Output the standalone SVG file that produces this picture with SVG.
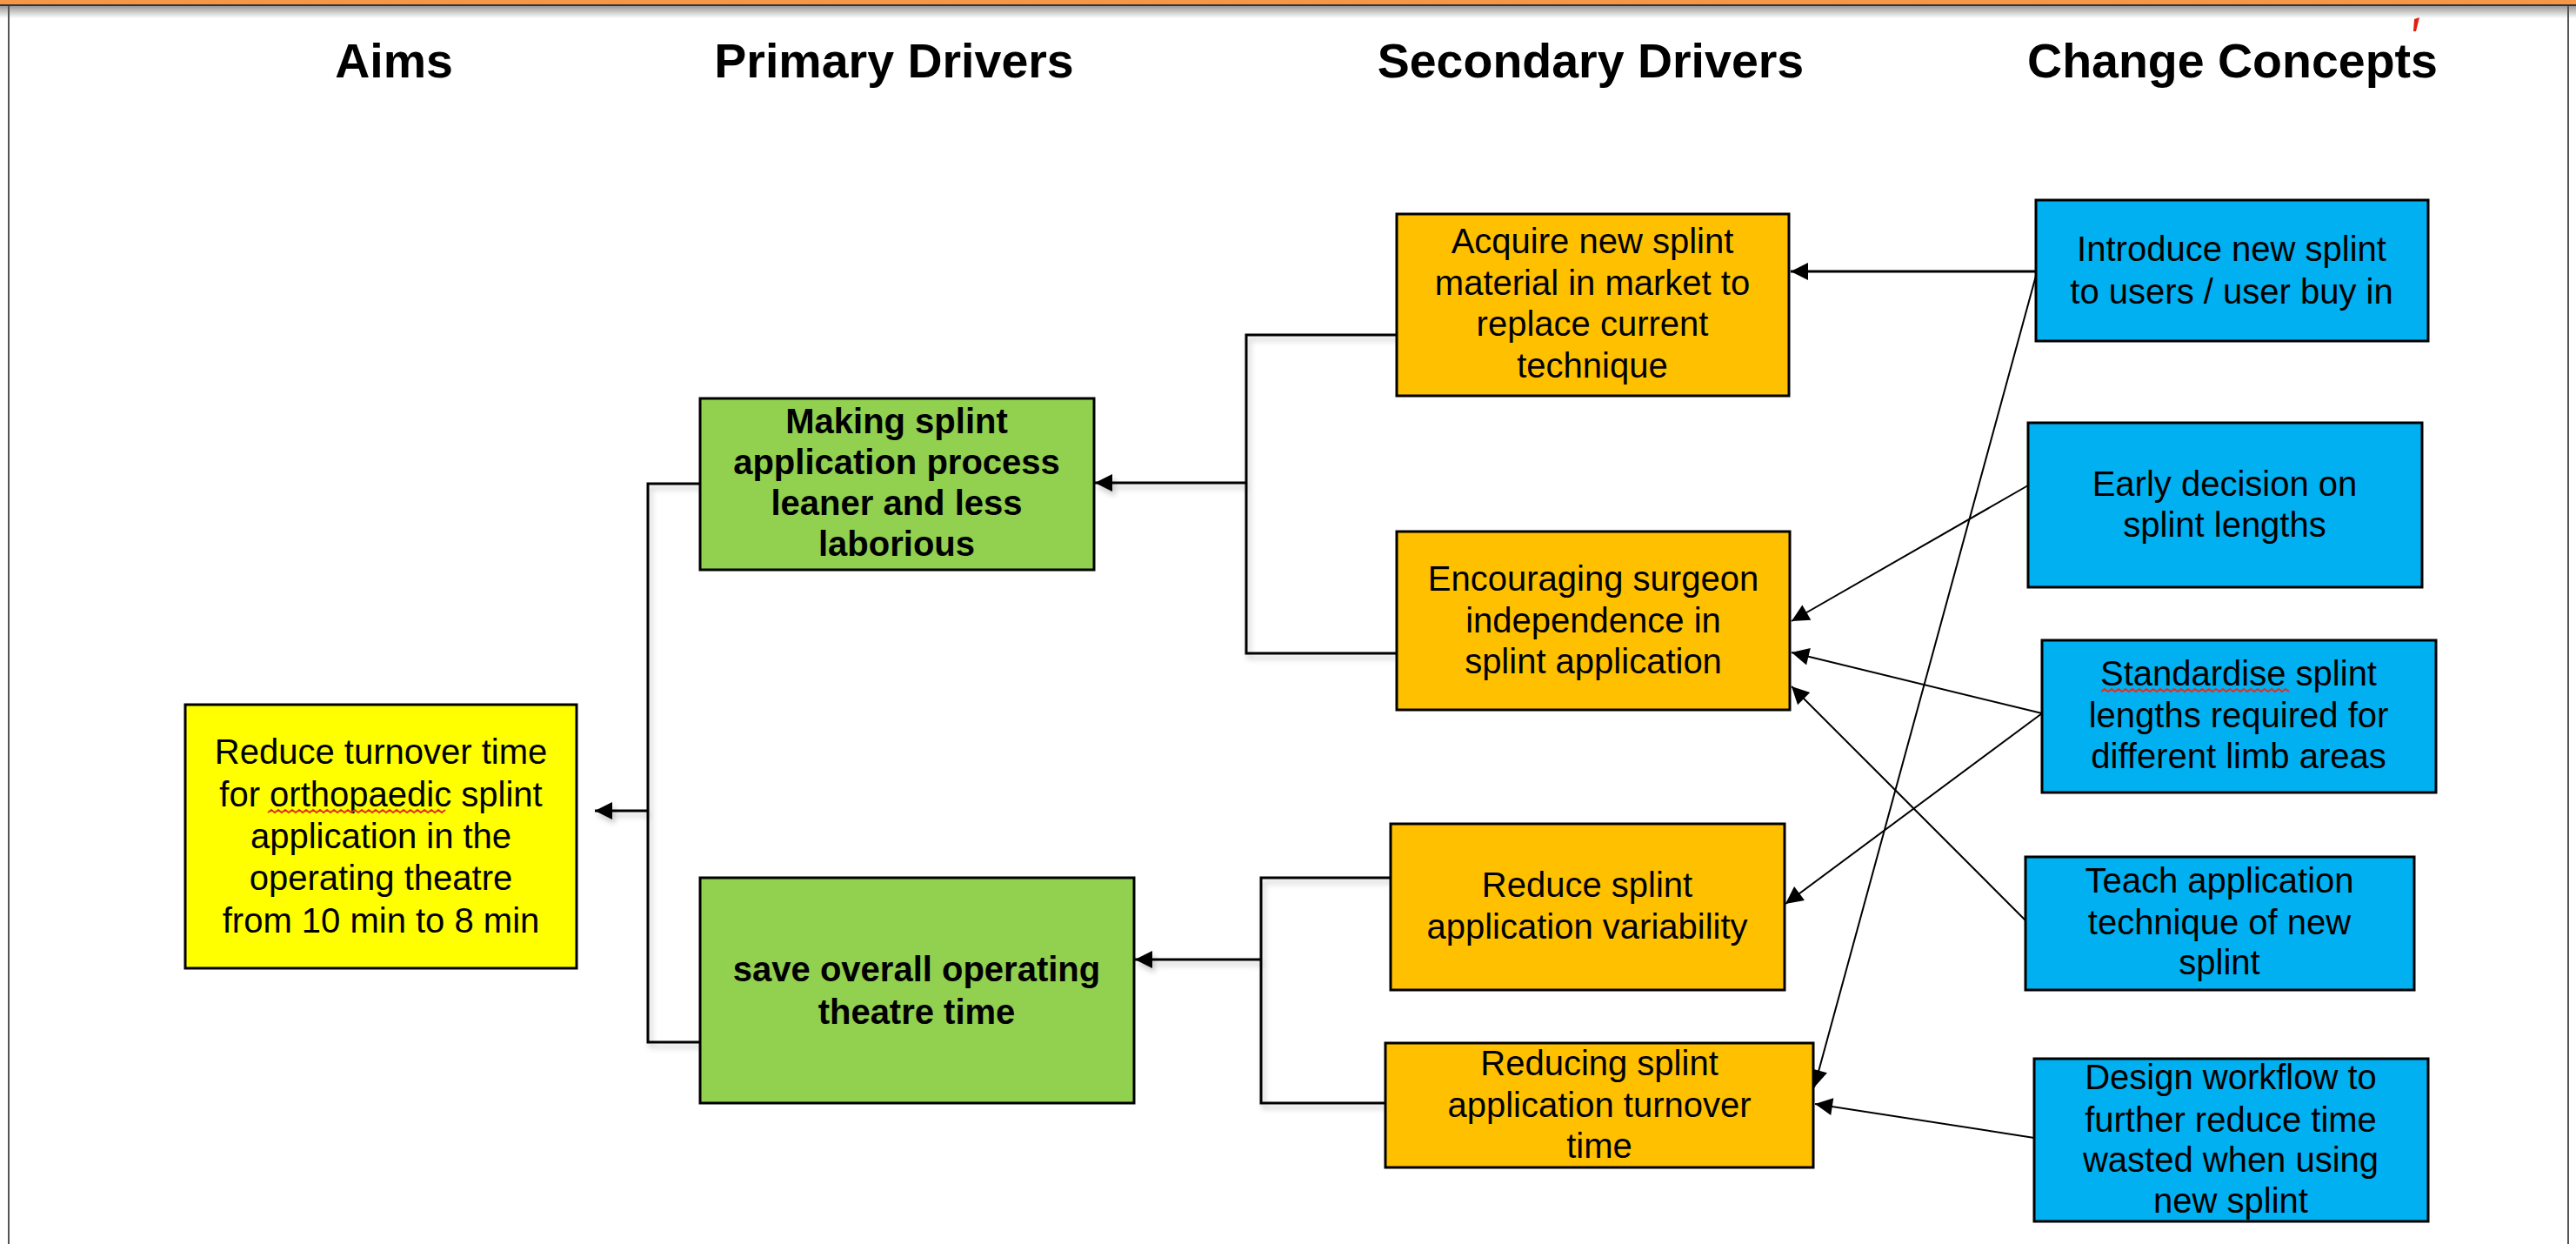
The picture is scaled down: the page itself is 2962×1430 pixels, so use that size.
<svg xmlns="http://www.w3.org/2000/svg" width="2962" height="1430" viewBox="0 0 2962 1430">
<defs>
<style>
.hdr{font-family:"Liberation Sans",Arial,sans-serif;font-weight:bold;font-size:55.5px;fill:#000;text-anchor:middle}
.t{font-family:"Liberation Sans",Arial,sans-serif;font-size:40px;fill:#000;text-anchor:middle}
.tb{font-family:"Liberation Sans",Arial,sans-serif;font-size:40px;font-weight:bold;fill:#000;text-anchor:middle}
.box{stroke:#000;stroke-width:3}
.aim{fill:#FFFF00}
.pri{fill:#92D050}
.sec{fill:#FFC000}
.chg{fill:#00B0F0}
.br{fill:none;stroke:#000;stroke-width:3}
.dg{fill:none;stroke:#000;stroke-width:2}
.wavy{fill:none;stroke:#E03020;stroke-width:2}
</style>
<marker id="ah" viewBox="0 0 10 10" refX="10" refY="5" markerWidth="24" markerHeight="20" markerUnits="userSpaceOnUse" orient="auto">
<path d="M0,0 L10,5 L0,10 z" fill="#000"/>
</marker>
<filter id="sh" x="-5%" y="-5%" width="110%" height="110%">
<feDropShadow dx="3" dy="5" stdDeviation="3" flood-color="#000" flood-opacity="0.22"/>
</filter>
<linearGradient id="topsh" x1="0" y1="0" x2="0" y2="1">
<stop offset="0" stop-color="#9a9a9a"/>
<stop offset="1" stop-color="#ffffff"/>
</linearGradient>
</defs>
<rect x="0" y="0" width="2962" height="1430" fill="#fff"/>
<rect x="0" y="7" width="2962" height="14" fill="url(#topsh)"/>
<rect x="0" y="0" width="2962" height="5" fill="#F79646"/>
<rect x="0" y="5" width="2962" height="2" fill="#333"/>
<line x1="10" y1="7" x2="10" y2="1430" stroke="#555" stroke-width="2"/>
<line x1="2953" y1="7" x2="2953" y2="1430" stroke="#555" stroke-width="2"/>
<polygon points="2776,22 2782,20 2778,36 2775,36" fill="#E02010"/>

<g id="headers">
<text class="hdr" x="453" y="89">Aims</text>
<text class="hdr" x="1028" y="89">Primary Drivers</text>
<text class="hdr" x="1829" y="89">Secondary Drivers</text>
<text class="hdr" x="2567" y="89">Change Concepts</text>
</g>

<g id="connectors">
<g filter="url(#sh)">
<polyline class="br" points="805,556 745,556 745,1198 805,1198"/>
<line class="br" x1="745" y1="932" x2="684" y2="932" marker-end="url(#ah)"/>
<polyline class="br" points="1606,385 1433,385 1433,751 1606,751"/>
<line class="br" x1="1433" y1="555" x2="1259" y2="555" marker-end="url(#ah)"/>
<polyline class="br" points="1599,1009 1450,1009 1450,1268 1593,1268"/>
<line class="br" x1="1450" y1="1103" x2="1305" y2="1103" marker-end="url(#ah)"/>
</g>
<line class="br" x1="2341" y1="312" x2="2059" y2="312" marker-end="url(#ah)"/>
<line class="dg" x1="2341" y1="317" x2="2086" y2="1250" marker-end="url(#ah)"/>
<line class="dg" x1="2332" y1="558" x2="2060" y2="714" marker-end="url(#ah)"/>
<line class="dg" x1="2348" y1="820" x2="2060" y2="750" marker-end="url(#ah)"/>
<line class="dg" x1="2348" y1="820" x2="2053" y2="1039" marker-end="url(#ah)"/>
<line class="dg" x1="2329" y1="1058" x2="2060" y2="789" marker-end="url(#ah)"/>
<line class="dg" x1="2339" y1="1308" x2="2087" y2="1269" marker-end="url(#ah)"/>
</g>

<g id="aim">
<rect class="box aim" x="213" y="810" width="450" height="303"/>
<text class="t" x="438" y="878">Reduce turnover time</text>
<text class="t" x="438" y="927">for orthopaedic splint</text>
<text class="t" x="438" y="975">application in the</text>
<text class="t" x="438" y="1023">operating theatre</text>
<text class="t" x="438" y="1072">from 10 min to 8 min</text>
<path class="wavy" d="M308,934 l4,-3 l4,3 l4,-3 l4,3 l4,-3 l4,3 l4,-3 l4,3 l4,-3 l4,3 l4,-3 l4,3 l4,-3 l4,3 l4,-3 l4,3 l4,-3 l4,3 l4,-3 l4,3 l4,-3 l4,3 l4,-3 l4,3 l4,-3 l4,3 l4,-3 l4,3 l4,-3 l4,3 l4,-3 l4,3 l4,-3 l4,3 l4,-3 l4,3 l4,-3 l4,3 l4,-3 l4,3 l4,-3 l4,3 l4,-3 l4,3 l4,-3 l4,3 l4,-3 l4,3 l4,-3 l4,3 l4,-3"/>
</g>

<g id="primary1">
<rect class="box pri" x="805" y="458" width="453" height="197"/>
<text class="tb" x="1031" y="498">Making splint</text>
<text class="tb" x="1031" y="545">application process</text>
<text class="tb" x="1031" y="592">leaner and less</text>
<text class="tb" x="1031" y="639">laborious</text>
</g>

<g id="primary2">
<rect class="box pri" x="805" y="1009" width="499" height="259"/>
<text class="tb" x="1054" y="1128">save overall operating</text>
<text class="tb" x="1054" y="1177">theatre time</text>
</g>

<g id="sec-acquire">
<rect class="box sec" x="1606" y="246" width="451" height="209"/>
<text class="t" x="1831" y="291">Acquire new splint</text>
<text class="t" x="1831" y="339">material in market to</text>
<text class="t" x="1831" y="386">replace current</text>
<text class="t" x="1831" y="434">technique</text>
</g>

<g id="sec-encourage">
<rect class="box sec" x="1606" y="611" width="452" height="205"/>
<text class="t" x="1832" y="679">Encouraging surgeon</text>
<text class="t" x="1832" y="727">independence in</text>
<text class="t" x="1832" y="774">splint application</text>
</g>

<g id="sec-variability">
<rect class="box sec" x="1599" y="947" width="453" height="191"/>
<text class="t" x="1825" y="1031">Reduce splint</text>
<text class="t" x="1825" y="1079">application variability</text>
</g>

<g id="sec-turnover">
<rect class="box sec" x="1593" y="1199" width="492" height="143"/>
<text class="t" x="1839" y="1236">Reducing splint</text>
<text class="t" x="1839" y="1284">application turnover</text>
<text class="t" x="1839" y="1331">time</text>
</g>

<g id="chg-introduce">
<rect class="box chg" x="2341" y="230" width="451" height="162"/>
<text class="t" x="2566" y="300">Introduce new splint</text>
<text class="t" x="2566" y="349">to users / user buy in</text>
</g>

<g id="chg-early">
<rect class="box chg" x="2332" y="486" width="453" height="189"/>
<text class="t" x="2558" y="570">Early decision on</text>
<text class="t" x="2558" y="617">splint lengths</text>
</g>

<g id="chg-standardise">
<rect class="box chg" x="2348" y="736" width="453" height="175"/>
<text class="t" x="2574" y="788">Standardise splint</text>
<text class="t" x="2574" y="836">lengths required for</text>
<text class="t" x="2574" y="883">different limb areas</text>
<path class="wavy" d="M2416,795 l4,-3 l4,3 l4,-3 l4,3 l4,-3 l4,3 l4,-3 l4,3 l4,-3 l4,3 l4,-3 l4,3 l4,-3 l4,3 l4,-3 l4,3 l4,-3 l4,3 l4,-3 l4,3 l4,-3 l4,3 l4,-3 l4,3 l4,-3 l4,3 l4,-3 l4,3 l4,-3 l4,3 l4,-3 l4,3 l4,-3 l4,3 l4,-3 l4,3 l4,-3 l4,3 l4,-3 l4,3 l4,-3 l4,3 l4,-3 l4,3 l4,-3 l4,3 l4,-3 l4,3 l4,-3 l4,3 l4,-3 l4,3 l4,-3 l4,3"/>
</g>

<g id="chg-teach">
<rect class="box chg" x="2329" y="985" width="447" height="153"/>
<text class="t" x="2552" y="1026">Teach application</text>
<text class="t" x="2552" y="1074">technique of new</text>
<text class="t" x="2552" y="1120">splint</text>
</g>

<g id="chg-design">
<rect class="box chg" x="2339" y="1217" width="453" height="187"/>
<text class="t" x="2565" y="1252">Design workflow to</text>
<text class="t" x="2565" y="1301">further reduce time</text>
<text class="t" x="2565" y="1347">wasted when using</text>
<text class="t" x="2565" y="1394">new splint</text>
</g>
</svg>
